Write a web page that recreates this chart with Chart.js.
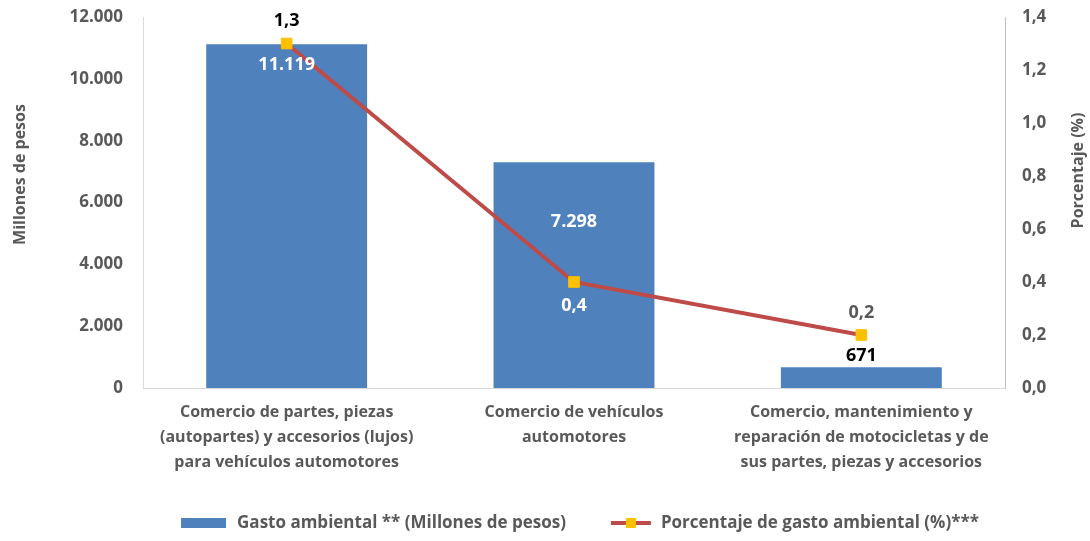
<!DOCTYPE html>
<html>
<head>
<meta charset="utf-8">
<script src="https://cdn.jsdelivr.net/npm/chart.js@4.4.1/dist/chart.umd.min.js"></script>
<style>
  html, body { margin: 0; padding: 0; background: #fff; }
  #wrap { width: 1090px; height: 541px; position: relative; }
</style>
</head>
<body>
<div id="wrap"><canvas id="chart"></canvas></div>
<script>
// Data
const categories = [
    ['Comercio de partes, piezas', '(autopartes) y accesorios (lujos)', 'para vehículos automotores'],
    ['Comercio de vehículos', 'automotores'],
    ['Comercio, mantenimiento y', 'reparación de motocicletas y de', 'sus partes, piezas y accesorios']
];
const gastoAmbiental = [11119, 7298, 671];
const porcentajeGasto = [1.3, 0.4, 0.2];
const leftTicks = [0, 2000, 4000, 6000, 8000, 10000, 12000];
const rightTicks = [0, 0.2, 0.4, 0.6, 0.8, 1.0, 1.2, 1.4];
const legendLabels = ['Gasto ambiental ** (Millones de pesos)', 'Porcentaje de gasto ambiental (%)***'];
const leftTitle = 'Millones de pesos';
const rightTitle = 'Porcentaje (%)';

const BAR_COLOR = '#4F81BD';
const LINE_COLOR = '#BE4B48';
const MARKER_COLOR = '#FFC000';
const TEXT_GREY = '#595959';
const FONT = '"Open Sans", "DejaVu Sans", sans-serif';

// label placement tweaks (pixels relative to mark)
const barLabelOffset = [21, 60, -11];
const barLabelColor = ['#ffffff', '#ffffff', '#000000'];
const lineLabelOffset = [-23, 24, -22];
const lineLabelColor = ['#000000', '#ffffff', TEXT_GREY];

function fmtMiles(v) {
    return Math.round(v).toString().replace(/\B(?=(\d{3})+(?!\d))/g, '.');
}
function fmtDec(v) {
    return v.toFixed(1).replace('.', ',');
}

const valueLabels = {
    id: 'valueLabels',
    afterDatasetsDraw(chart) {
        const ctx = chart.ctx;
        ctx.save();
        ctx.textAlign = 'center';
        ctx.textBaseline = 'middle';
        ctx.font = 'bold 18px ' + FONT;
        chart.getDatasetMeta(0).data.forEach((el, i) => {
            ctx.fillStyle = barLabelColor[i];
            ctx.fillText(fmtMiles(gastoAmbiental[i]), el.x, el.y + barLabelOffset[i]);
        });
        chart.getDatasetMeta(1).data.forEach((el, i) => {
            ctx.fillStyle = lineLabelColor[i];
            ctx.fillText(fmtDec(porcentajeGasto[i]), el.x, el.y + lineLabelOffset[i]);
        });
        ctx.restore();
    }
};

// custom legend (bar box + line with square marker) and axis titles
const extras = {
    id: 'extras',
    afterDraw(chart) {
        const ctx = chart.ctx;
        const area = chart.chartArea;
        ctx.save();
        ctx.font = 'bold 17px ' + FONT;
        ctx.textBaseline = 'middle';
        const w1 = ctx.measureText(legendLabels[0]).width;
        const w2 = ctx.measureText(legendLabels[1]).width;
        const total = 45 + 11 + w1 + 45 + 40 + 10 + w2;
        let x = (area.left + area.right) / 2 + 6 - total / 2;
        const y = 523;
        ctx.fillStyle = BAR_COLOR;
        ctx.fillRect(x, y - 5, 45, 10);
        x += 56;
        ctx.fillStyle = TEXT_GREY;
        ctx.fillText(legendLabels[0], x, y);
        x += w1 + 45;
        ctx.strokeStyle = LINE_COLOR;
        ctx.lineWidth = 4;
        ctx.beginPath();
        ctx.moveTo(x, y);
        ctx.lineTo(x + 40, y);
        ctx.stroke();
        ctx.fillStyle = MARKER_COLOR;
        ctx.fillRect(x + 15, y - 5, 10, 10);
        x += 50;
        ctx.fillStyle = TEXT_GREY;
        ctx.fillText(legendLabels[1], x, y);

        // axis titles, reading bottom to top
        ctx.font = 'bold 16px ' + FONT;
        ctx.textAlign = 'center';
        const midY = (area.top + area.bottom) / 2 - 28;
        ctx.save();
        ctx.translate(20, midY);
        ctx.rotate(-Math.PI / 2);
        ctx.fillText(leftTitle, 0, 0);
        ctx.restore();
        ctx.translate(chart.width - 12, midY - 4);
        ctx.rotate(-Math.PI / 2);
        ctx.fillText(rightTitle, 0, 0);
        ctx.restore();
    }
};

new Chart(document.getElementById('chart').getContext('2d'), {
    type: 'bar',
    data: {
        labels: categories,
        datasets: [{
            type: 'bar',
            label: legendLabels[0],
            data: gastoAmbiental,
            backgroundColor: BAR_COLOR,
            yAxisID: 'y',
            categoryPercentage: 0.56,
            barPercentage: 1.0,
            order: 2
        }, {
            type: 'line',
            label: legendLabels[1],
            data: porcentajeGasto,
            borderColor: LINE_COLOR,
            borderWidth: 4,
            pointStyle: 'rect',
            pointRadius: 7.5,
            pointBackgroundColor: MARKER_COLOR,
            pointBorderColor: MARKER_COLOR,
            pointBorderWidth: 1,
            yAxisID: 'y1',
            order: 1
        }]
    },
    options: {
        responsive: true,
        maintainAspectRatio: false,
        animation: false,
        layout: { padding: { top: 17, bottom: 60, left: 0, right: 0 } },
        plugins: {
            legend: { display: false },
            tooltip: { enabled: false }
        },
        scales: {
            x: {
                grid: { display: false, drawTicks: false },
                border: { color: '#D9D9D9', width: 1 },
                ticks: {
                    color: TEXT_GREY,
                    padding: 12,
                    maxRotation: 0,
                    autoSkip: false,
                    font: { family: FONT, size: 16, weight: 'bold', lineHeight: 1.56 }
                },
                afterFit(s) { s.height = 93; }
            },
            y: {
                position: 'left',
                min: 0,
                max: 12000,
                afterBuildTicks(s) { s.ticks = leftTicks.map(v => ({ value: v })); },
                grid: { display: false, drawTicks: false },
                border: { color: '#D9D9D9', width: 1 },
                ticks: {
                    color: TEXT_GREY,
                    padding: 20,
                    font: { family: FONT, size: 17, weight: 'bold' },
                    callback: v => fmtMiles(v)
                },
                afterFit(s) { s.width = 143; s.paddingTop = 0; s.paddingBottom = 0; }
            },
            y1: {
                position: 'right',
                min: 0,
                max: 1.4,
                afterBuildTicks(s) { s.ticks = rightTicks.map(v => ({ value: v })); },
                grid: { display: false, drawTicks: false },
                border: { color: '#BFBFBF', width: 1 },
                ticks: {
                    color: TEXT_GREY,
                    padding: 17,
                    font: { family: FONT, size: 17, weight: 'bold' },
                    callback: v => fmtDec(v)
                },
                afterFit(s) { s.width = 85; s.paddingTop = 0; s.paddingBottom = 0; }
            }
        }
    },
    plugins: [valueLabels, extras]
});
</script>
</body>
</html>
